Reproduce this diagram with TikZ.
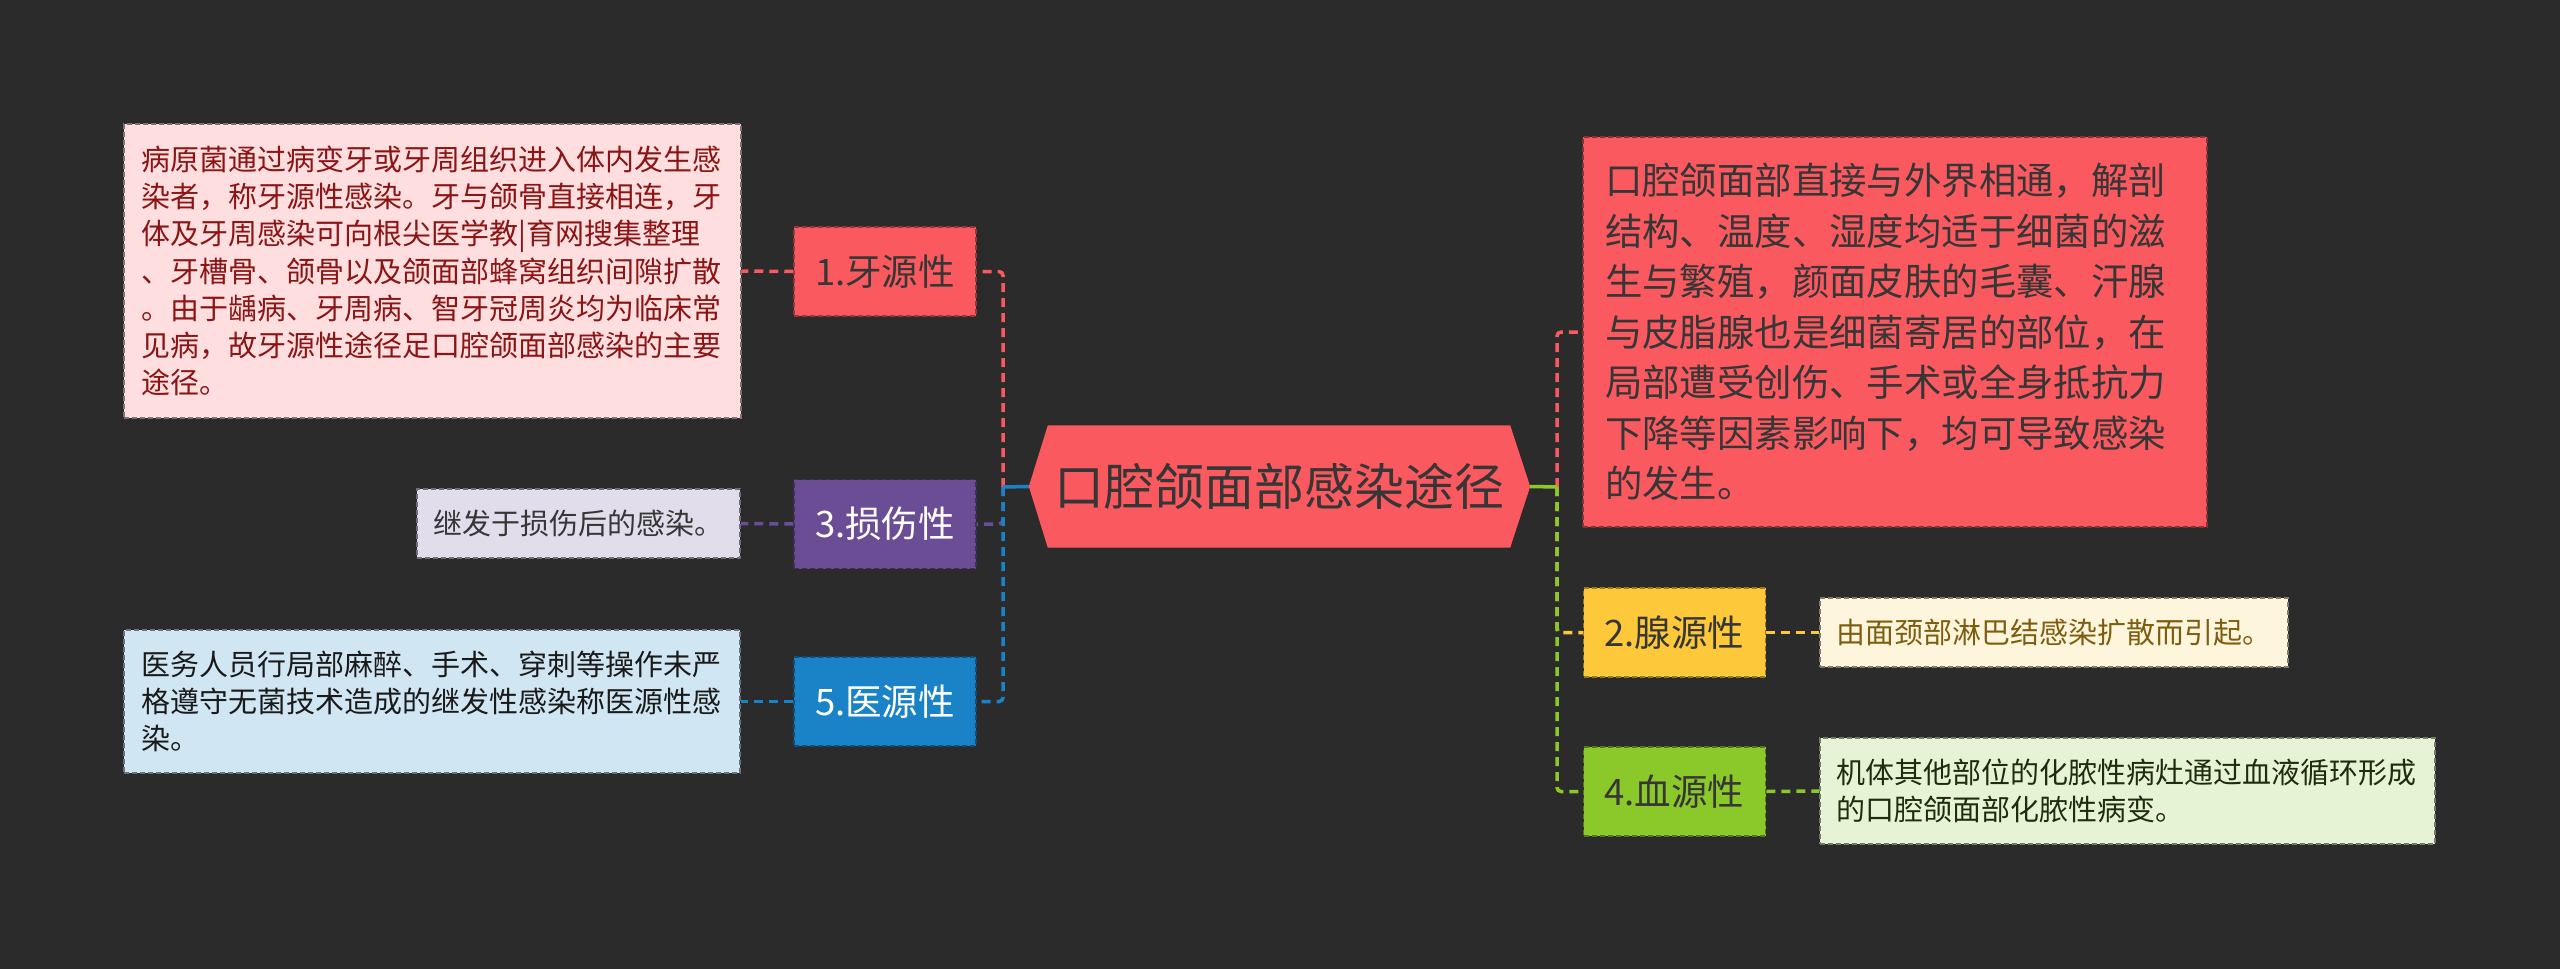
\documentclass[tikz,border=0pt]{standalone}
\usepackage{fontspec}
\setmainfont{Noto Sans CJK SC}
\usetikzlibrary{calc,backgrounds}
\definecolor{bgc}{HTML}{2B2B2B}
\definecolor{cRed}{HTML}{FA5A5F}
\definecolor{cPur}{HTML}{6B4D95}
\definecolor{cBlu}{HTML}{1A82C6}
\definecolor{cYel}{HTML}{FDC93B}
\definecolor{cGrn}{HTML}{8BC82A}
\definecolor{lPink}{HTML}{FFDEDF}
\definecolor{lPur}{HTML}{E1DDEA}
\definecolor{lBlu}{HTML}{D1E6F3}
\definecolor{lYel}{HTML}{FDF6DC}
\definecolor{lGrn}{HTML}{E7F3D5}
\definecolor{tDark}{HTML}{363636}
\definecolor{tPink}{HTML}{8B1414}
\definecolor{tYel}{HTML}{7F5D10}
\definecolor{tGrn}{HTML}{1F2D0E}
\definecolor{tBlu}{HTML}{1A1A1A}
\begin{document}
\begin{tikzpicture}[x=1pt,y=-1pt,
  conn/.style={line width=3.5pt, dash pattern=on 9pt off 6pt, rounded corners=4pt},
  solidconn/.style={line width=3.5pt},
  catbox/.style={minimum width=182pt, minimum height=89pt, inner sep=0pt, draw, line width=1.5pt, dash pattern=on 5pt off 3pt, font=\fontsize{36.5}{43}\selectfont},
  tbox/.style={inner sep=0pt, align=left, draw, line width=1.5pt, dash pattern=on 5pt off 3pt, font=\fontsize{29}{37.2}\selectfont}]
\useasboundingbox (0,0) rectangle (2560,969);

% root
\node[inner sep=0pt, minimum width=501pt, minimum height=122pt, font=\fontsize{50}{60}\selectfont, text=tDark] (root) at (1279.5,486.5) {口腔颌面部感染途径};

% category nodes
\node[catbox, fill=cRed, draw=cRed!60!black, text=tDark] (n1) at (885,271.5) {1.牙源性};
\node[catbox, fill=cPur, draw=cPur!60!black, text=white] (n3) at (885,524) {3.损伤性};
\node[catbox, fill=cBlu, draw=cBlu!60!black, text=white] (n5) at (885,701.5) {5.医源性};
\node[catbox, fill=cYel, draw=cYel!60!black, text=tDark] (n2) at (1674.5,632.5) {2.腺源性};
\node[catbox, fill=cGrn, draw=cGrn!60!black, text=tDark] (n4) at (1674.5,791.5) {4.血源性};

% text boxes
\node[tbox, fill=lPink, draw=lPink!50!black, text=tPink, minimum width=617pt, minimum height=294pt, text width=582pt] (t1) at (432.5,271) {病原菌通过病变牙或牙周组织进入体内发生感\\染者，称牙源性感染。牙与颌骨直接相连，牙\\体及牙周感染可向根尖医学教|育网搜集整理\\、牙槽骨、颌骨以及颌面部蜂窝组织间隙扩散\\。由于龋病、牙周病、智牙冠周炎均为临床常\\见病，故牙源性途径足口腔颌面部感染的主要\\途径。};
\node[tbox, fill=lPur, draw=lPur!50!black, text=tDark, minimum width=323pt, minimum height=69pt, text width=291pt] (t3) at (578.5,523.5) {继发于损伤后的感染。};
\node[tbox, fill=lBlu, draw=lBlu!50!black, text=tBlu, minimum width=616pt, minimum height=143pt, text width=582pt] (t5) at (432,701.5) {医务人员行局部麻醉、手术、穿刺等操作未严\\格遵守无菌技术造成的继发性感染称医源性感\\染。};
\node[tbox, fill=cRed, draw=cRed!55!black, text=tDark, minimum width=624pt, minimum height=390pt, text width=580pt, font=\fontsize{37.4}{50.5}\selectfont] (tR) at (1895,332) {口腔颌面部直接与外界相通，解剖\\结构、温度、湿度均适于细菌的滋\\生与繁殖，颜面皮肤的毛囊、汗腺\\与皮脂腺也是细菌寄居的部位，在\\局部遭受创伤、手术或全身抵抗力\\下降等因素影响下，均可导致感染\\的发生。};
\node[tbox, fill=lYel, draw=lYel!50!black, text=tYel, minimum width=468pt, minimum height=69pt, text width=436pt] (t2) at (2054,632.5) {由面颈部淋巴结感染扩散而引起。};
\node[tbox, fill=lGrn, draw=lGrn!50!black, text=tGrn, minimum width=615pt, minimum height=106pt, text width=583pt] (t4) at (2127.5,791) {机体其他部位的化脓性病灶通过血液循环形成\\的口腔颌面部化脓性病变。};

% background and root hexagon
\begin{scope}[on background layer]
\fill[bgc] (0,0) rectangle (2560,969);
\fill[cRed] (root.west) -- ($(root.north west)+(19,0)$) -- ($(root.north east)+(-20,0)$) -- (root.east) -- ($(root.south east)+(-20,0)$) -- ($(root.south west)+(19,0)$) -- cycle;
\end{scope}

% spines
\coordinate (sL) at (1003,487);
\coordinate (sR) at (1557,487);

\draw[conn, cPur] (sL) |- (n3.east);
\draw[conn, cRed] (sL) |- (n1.east);
\draw[conn, cBlu] (sL) |- (n5.east);
\draw[solidconn, cBlu] (root.west) -- (sL);

\draw[conn, cRed] (sR) |- (tR.west);
\draw[conn, cYel] (sR) |- (n2.west);
\draw[conn, cGrn] (sR) |- (n4.west);
\draw[solidconn, cGrn] (root.east) -- (sR);

% category to text
\draw[conn, cRed] (n1.west) -- (t1.east);
\draw[conn, cPur] (n3.west) -- (t3.east);
\draw[conn, cBlu] (n5.west) -- (t5.east);
\draw[conn, cYel] (n2.east) -- (t2.west);
\draw[conn, cGrn] (n4.east) -- (t4.west);
\end{tikzpicture}
\end{document}
